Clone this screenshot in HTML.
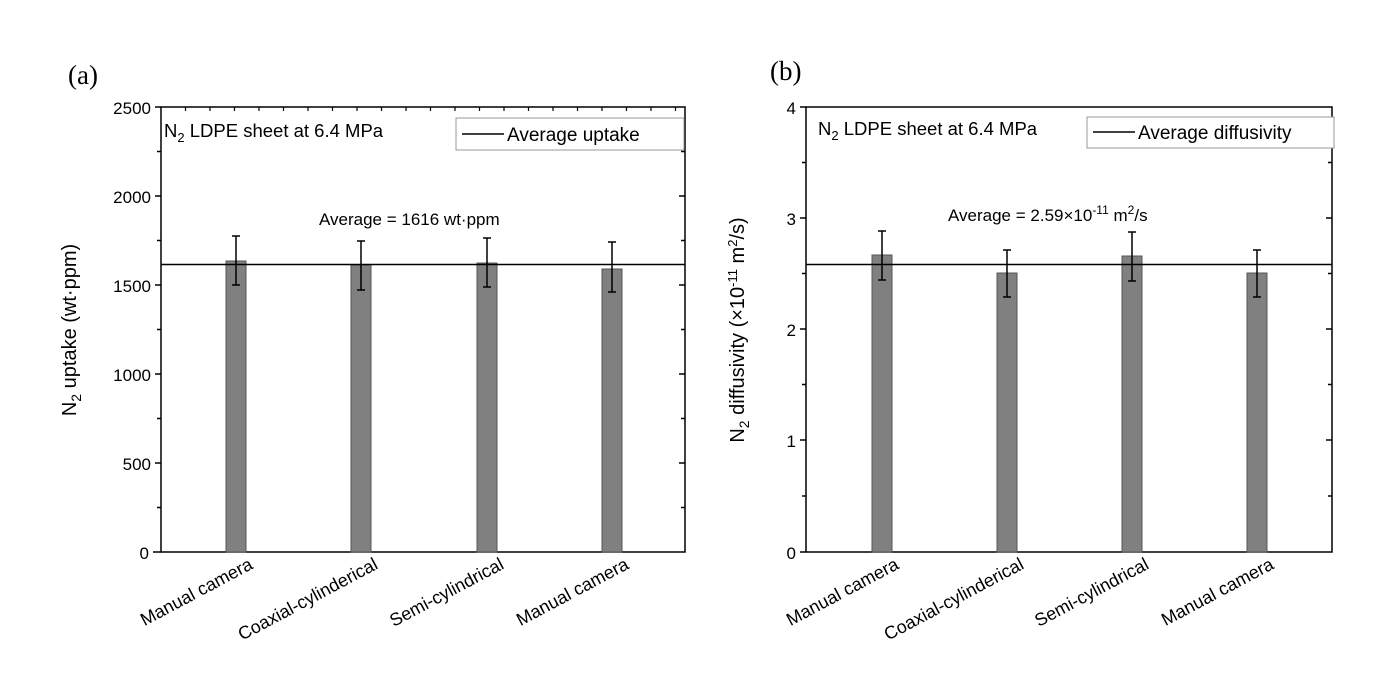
<!DOCTYPE html>
<html><head><meta charset="utf-8"><style>
body{margin:0;background:#fff}
svg{display:block;font-family:"Liberation Sans",Arial,sans-serif}
</style></head><body>
<svg width="1393" height="678" viewBox="0 0 1393 678">
<g font-family="Liberation Serif" font-size="27"><text x="68" y="84">(a)</text><text x="770" y="80">(b)</text></g>

<!-- LEFT -->
<g stroke="#000" stroke-width="1.5" fill="none">
<rect x="161" y="107" width="524" height="445"/>
<path d="M161 107h-6M161 196h-6M161 285h-6M161 374h-6M161 463h-6M161 552h-8
M161 151.5h-4M161 240.5h-4M161 329.5h-4M161 418.5h-4M161 507.5h-4
M685 196h-6M685 285h-6M685 374h-6M685 463h-6M685 151.5h-4M685 240.5h-4M685 329.5h-4M685 418.5h-4M685 507.5h-4"/>
<path d="M185.5 107v4M210 107v4M234.5 107v4M259 107v4M283.5 107v4M308 107v4M332.5 107v4M357 107v4M381.5 107v4M406 107v4M430.5 107v4M455 107v4M479.5 107v4M504 107v4M528.5 107v4M553 107v4M577.5 107v4M602 107v4M626.5 107v4M651 107v4M675.5 107v4" stroke-width="1.2"/>
</g>
<g fill="#808080" stroke="#555" stroke-width="1">
<rect x="226" y="261" width="20" height="291"/><rect x="351" y="265" width="20" height="287"/>
<rect x="477" y="263" width="20" height="289"/><rect x="602" y="269" width="20" height="283"/>
</g>
<line x1="161" y1="264.5" x2="685" y2="264.5" stroke="#000" stroke-width="1.6"/>
<g stroke="#000" stroke-width="1.5">
<path d="M236 236V285M232 236h8M232 285h8"/>
<path d="M361 241V290M357 241h8M357 290h8"/>
<path d="M487 238V287M483 238h8M483 287h8"/>
<path d="M612 242V292M608 242h8M608 292h8"/>
</g>
<g font-size="17" text-anchor="end"><text x="151" y="114">2500</text><text x="151" y="203">2000</text><text x="151" y="292">1500</text><text x="151" y="381">1000</text><text x="151" y="470">500</text><text x="149" y="559">0</text></g>
<text font-size="20" transform="translate(76 330) rotate(-90)" text-anchor="middle">N<tspan font-size="14" dy="5">2</tspan><tspan dy="-5"> uptake (wt·ppm)</tspan></text>
<text x="164" y="137" font-size="18.5">N<tspan font-size="13" dy="5">2</tspan><tspan dy="-5"> LDPE sheet at 6.4 MPa</tspan></text>
<rect x="456" y="118" width="228" height="32" fill="#fff" stroke="#999"/>
<line x1="462" y1="134" x2="504" y2="134" stroke="#000" stroke-width="1.5"/>
<text x="507" y="141" font-size="19">Average uptake</text>
<text x="319" y="225" font-size="17">Average = 1616 wt·ppm</text>
<g font-size="18" text-anchor="end">
<text transform="translate(254 568) rotate(-28)">Manual camera</text>
<text transform="translate(379 568) rotate(-28)">Coaxial-cylinderical</text>
<text transform="translate(505 568) rotate(-28)">Semi-cylindrical</text>
<text transform="translate(630 568) rotate(-28)">Manual camera</text>
</g>

<!-- RIGHT -->
<g stroke="#000" stroke-width="1.5" fill="none">
<rect x="806" y="107" width="526" height="445"/>
<path d="M806 107h-6M806 218h-6M806 329h-6M806 440h-6M806 552h-6
M806 162.5h-4M806 273.5h-4M806 384.5h-4M806 496h-4
M1332 218h-6M1332 329h-6M1332 440h-6M1332 162.5h-4M1332 273.5h-4M1332 384.5h-4M1332 496h-4"/>
</g>
<g fill="#808080" stroke="#555" stroke-width="1">
<rect x="872" y="255" width="20" height="297"/><rect x="997" y="273" width="20" height="279"/>
<rect x="1122" y="256" width="20" height="296"/><rect x="1247" y="273" width="20" height="279"/>
</g>
<line x1="806" y1="264.5" x2="1332" y2="264.5" stroke="#000" stroke-width="1.6"/>
<g stroke="#000" stroke-width="1.5">
<path d="M882 231V280M878 231h8M878 280h8"/>
<path d="M1007 250V297M1003 250h8M1003 297h8"/>
<path d="M1132 232V281M1128 232h8M1128 281h8"/>
<path d="M1257 250V297M1253 250h8M1253 297h8"/>
</g>
<g font-size="17" text-anchor="end"><text x="796" y="114">4</text><text x="796" y="225">3</text><text x="796" y="336">2</text><text x="796" y="447">1</text><text x="796" y="559">0</text></g>
<text font-size="20" transform="translate(744 330) rotate(-90)" text-anchor="middle">N<tspan font-size="14" dy="5">2</tspan><tspan dy="-5"> diffusivity (×10</tspan><tspan font-size="13" dy="-7">-11</tspan><tspan dy="7"> m</tspan><tspan font-size="13" dy="-7">2</tspan><tspan dy="7">/s)</tspan></text>
<text x="818" y="135" font-size="18.5">N<tspan font-size="13" dy="5">2</tspan><tspan dy="-5"> LDPE sheet at 6.4 MPa</tspan></text>
<rect x="1087" y="117" width="247" height="31" fill="#fff" stroke="#999"/>
<line x1="1093" y1="132" x2="1135" y2="132" stroke="#000" stroke-width="1.5"/>
<text x="1138" y="139" font-size="19">Average diffusivity</text>
<text x="948" y="221" font-size="17">Average = 2.59×10<tspan font-size="12" dy="-7">-11</tspan><tspan dy="7"> m</tspan><tspan font-size="12" dy="-7">2</tspan><tspan dy="7">/s</tspan></text>
<g font-size="18" text-anchor="end">
<text transform="translate(900 568) rotate(-28)">Manual camera</text>
<text transform="translate(1025 568) rotate(-28)">Coaxial-cylinderical</text>
<text transform="translate(1150 568) rotate(-28)">Semi-cylindrical</text>
<text transform="translate(1275 568) rotate(-28)">Manual camera</text>
</g>
</svg>
</body></html>
